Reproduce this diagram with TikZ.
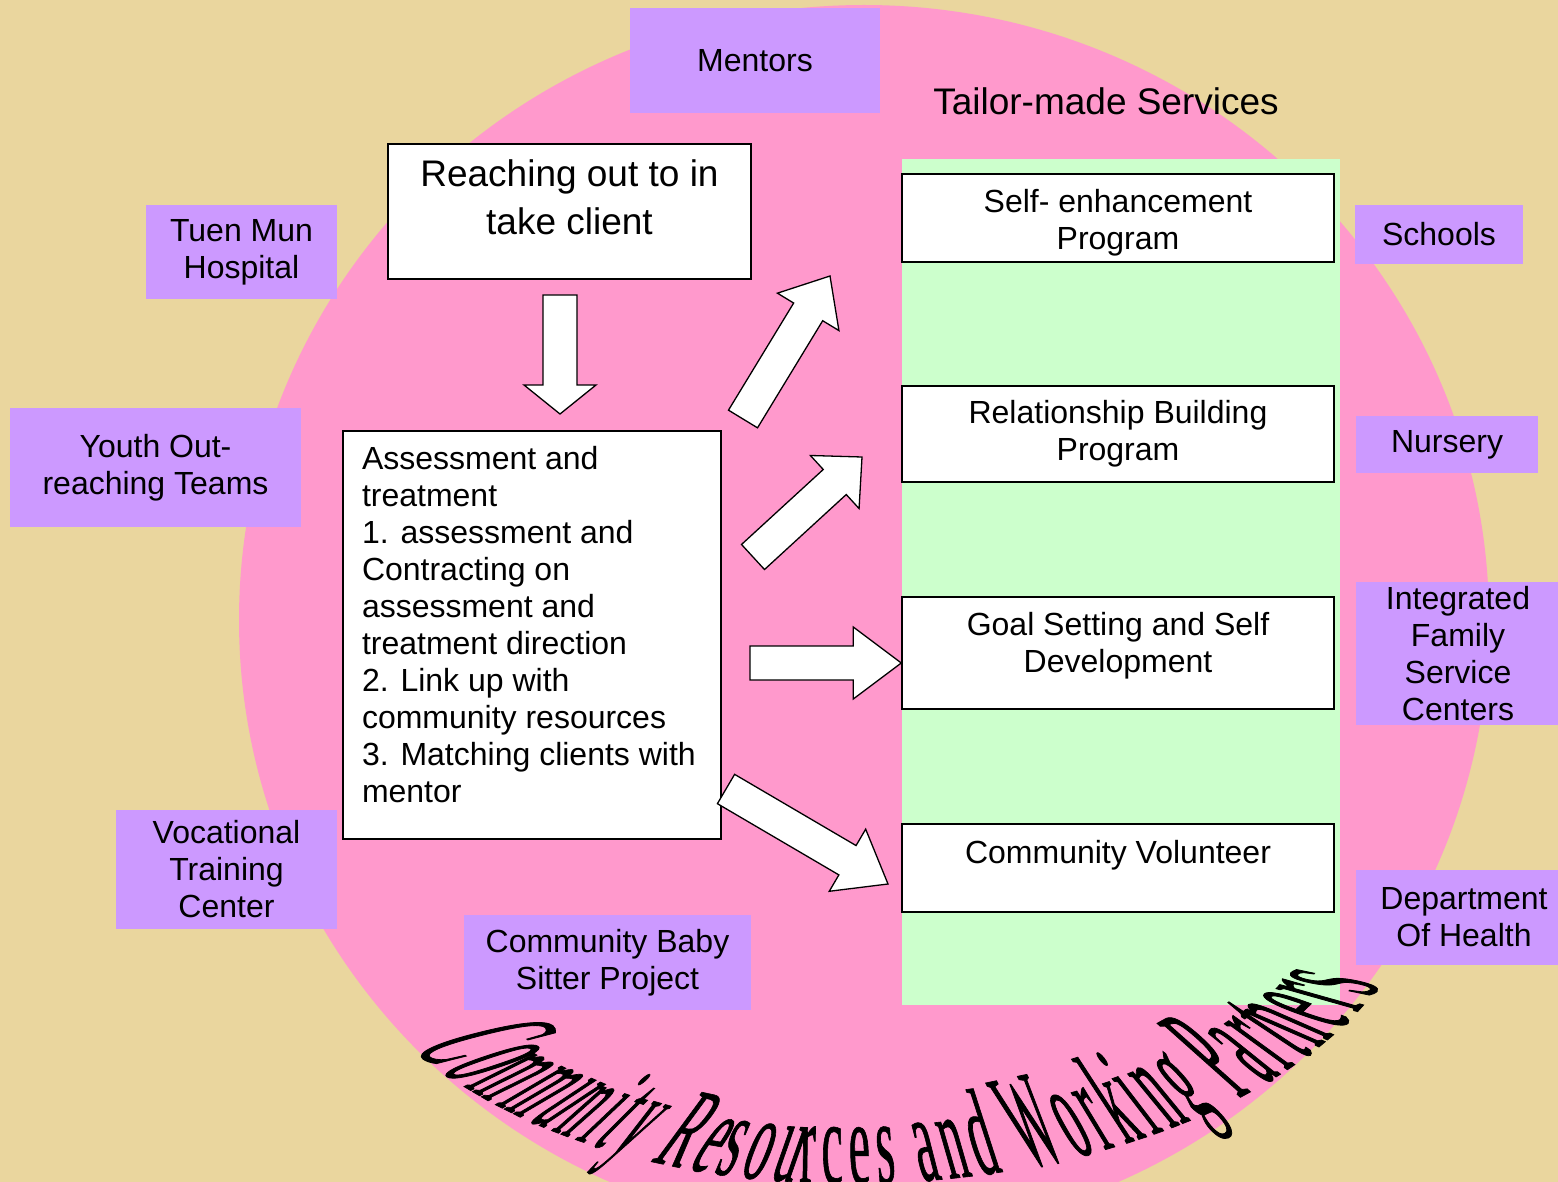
\documentclass[tikz,border=0pt]{standalone}
\usepackage{fontspec}
\setmainfont{Liberation Sans}
% condensed, slanted letter sets for the curved title
\newfontfamily\waA[FakeStretch=0.27,FakeSlant=0.75,FakeBold=0.5]{Liberation Serif}
\newfontfamily\waB[FakeStretch=0.27,FakeSlant=0.65,FakeBold=0.5]{Liberation Serif}
\newfontfamily\waC[FakeStretch=0.29,FakeSlant=0.52,FakeBold=0.5]{Liberation Serif}
\newfontfamily\waD[FakeStretch=0.38,FakeSlant=0.45,FakeBold=0.5]{Liberation Serif}
\newfontfamily\waE[FakeStretch=0.40,FakeSlant=0.27,FakeBold=0.5]{Liberation Serif}
\newfontfamily\waF[FakeStretch=0.40,FakeSlant=-0.03,FakeBold=0.5]{Liberation Serif}
\newfontfamily\waG[FakeStretch=0.38,FakeSlant=-0.17,FakeBold=0.5]{Liberation Serif}
\newfontfamily\waH[FakeStretch=0.32,FakeSlant=-0.27,FakeBold=0.5]{Liberation Serif}
\newfontfamily\waI[FakeStretch=0.30,FakeSlant=-0.32,FakeBold=0.5]{Liberation Serif}
\newfontfamily\waJ[FakeStretch=0.26,FakeSlant=-0.36,FakeBold=0.5]{Liberation Serif}
\newfontfamily\waK[FakeStretch=0.25,FakeSlant=-0.50,FakeBold=0.5]{Liberation Serif}
\newcommand{\wsize}[1]{\fontsize{#1}{#1}\selectfont}
\usetikzlibrary{calc,decorations.text}

\definecolor{papyrus}{RGB}{234,214,158}
\definecolor{circlepink}{RGB}{255,153,204}
\definecolor{partnerlilac}{RGB}{204,153,255}
\definecolor{panelgreen}{RGB}{204,255,204}

\tikzset{
  partner/.style={fill=partnerlilac, inner sep=0pt, align=center, font=\fontsize{32}{37}\selectfont},
  service/.style={draw=black, fill=white, line width=1.5pt, inner sep=0pt},
  bigarrow/.style={draw=black, fill=white, line width=1.3pt, line join=miter},
}

% box of fixed size, text from the top
\newcommand{\topbox}[4]{\parbox[c][#2pt][t]{#1pt}{\vspace*{#3pt}#4}}
% block arrow: [head length]{tail}{tip}
\newcommand{\blockarrow}[3][42]{%
  \coordinate (hb) at ($(#3)!#1pt!(#2)$);
  \draw[bigarrow] ($(#2)!17pt!90:(#3)$) -- ($(hb)!17pt!90:(#3)$) -- ($(hb)!36pt!90:(#3)$) -- (#3)
    -- ($(hb)!36pt!-90:(#3)$) -- ($(hb)!17pt!-90:(#3)$) -- ($(#2)!17pt!-90:(#3)$) -- cycle;}

\begin{document}
\begin{tikzpicture}[x=1pt,y=-1pt]
\useasboundingbox (0,0) rectangle (1558,1182);
\clip (0,0) rectangle (1558,1182);
\fill[papyrus] (0,0) rectangle (1558,1182);
\fill[circlepink] (864,620) ellipse [x radius=625, y radius=615];
\fill[panelgreen] (902,159) rectangle (1340,1005);

% partners
\node[partner, minimum width=250, minimum height=105] (mentors) at (755,60.5) {Mentors};
\node[partner, minimum width=191, minimum height=94] (tuenmun) at (241.5,252) {Tuen Mun\\Hospital};
\node[partner, minimum width=291, minimum height=119] (youth) at (155.5,467.5) {Youth Out-\\reaching Teams};
\node[partner, minimum width=221, minimum height=119] (vocational) at (226.5,869.5) {Vocational\\Training\\Center};
\node[partner, minimum width=287, minimum height=95] (babysitter) at (607.5,962.5) {Community Baby\\Sitter Project};
\node[partner, minimum width=168, minimum height=59] (schools) at (1439,234.5) {Schools};
\node[partner, minimum width=182, minimum height=57] (nursery) at (1447,444.5) {Nursery};
\node[partner, minimum width=204, minimum height=143] (ifsc) at (1458,653.5) {Integrated\\Family\\Service\\Centers};
\node[partner, minimum width=216, minimum height=95] (health) at (1464,917.5) {Department\\ Of Health};

\node[font=\fontsize{37}{44}\selectfont] (tailor) at (1106,101) {Tailor-made Services};

% process
\node[service] (reach) at (569.5,211.5) {\topbox{363}{135}{16}{\fontsize{37}{48}\selectfont\centering Reaching out to in\\take client}};
\node[service, inner xsep=19pt] (assess) at (532,635) {\topbox{340}{408}{15}{\fontsize{32}{37}\selectfont\raggedright
  Assessment and\\treatment\\1. assessment and\\Contracting on\\assessment and\\treatment direction\\2. Link up with\\community resources\\3. Matching clients with\\mentor}};

\node[service] (selfenh) at (1118,218) {\topbox{432}{88}{15}{\fontsize{32}{37}\selectfont\centering Self- enhancement\\Program}};
\node[service] (relation) at (1118,434) {\topbox{432}{96}{14}{\fontsize{32}{37}\selectfont\centering Relationship Building\\Program}};
\node[service] (goal) at (1118,653) {\topbox{432}{112}{15}{\fontsize{32}{37}\selectfont\centering Goal Setting and Self\\Development}};
\node[service] (volunteer) at (1118,868) {\topbox{432}{88}{16}{\fontsize{32}{37}\selectfont\centering Community Volunteer}};

% arrows
\coordinate (t1) at (560,295); \coordinate (h1) at (560,414);
\blockarrow[29]{t1}{h1}
\coordinate (t2) at (743,419); \coordinate (h2) at (830,276);
\blockarrow[42]{t2}{h2}
\coordinate (t3) at (753,557); \coordinate (h3) at (862,457);
\blockarrow[37]{t3}{h3}
\coordinate (t4) at (750,663); \coordinate (h4) at ([yshift=-10pt]goal.west);
\blockarrow[48]{t4}{h4}
\coordinate (t5) at (726,789); \coordinate (h5) at (888,884);
\blockarrow[47]{t5}{h5}

% curved title
\path[decorate, decoration={text along path, text align={fit to path},
  text={|\waA\wsize{160}|Co|\waB\wsize{140}|mmu|\waC\wsize{130}|nity|\waD\wsize{120}| Re|\waE\wsize{120}|sou|\waF\wsize{120}|rces|\waG\wsize{125}| and |\waH\wsize{140}|Work|\waI\wsize{145}|ing |\waJ\wsize{160}|Part|\waK\wsize{165}|ners}}]
  (412,1048) .. controls (660,1262) and (1212,1209) .. (1380,985);
\end{tikzpicture}
\end{document}
